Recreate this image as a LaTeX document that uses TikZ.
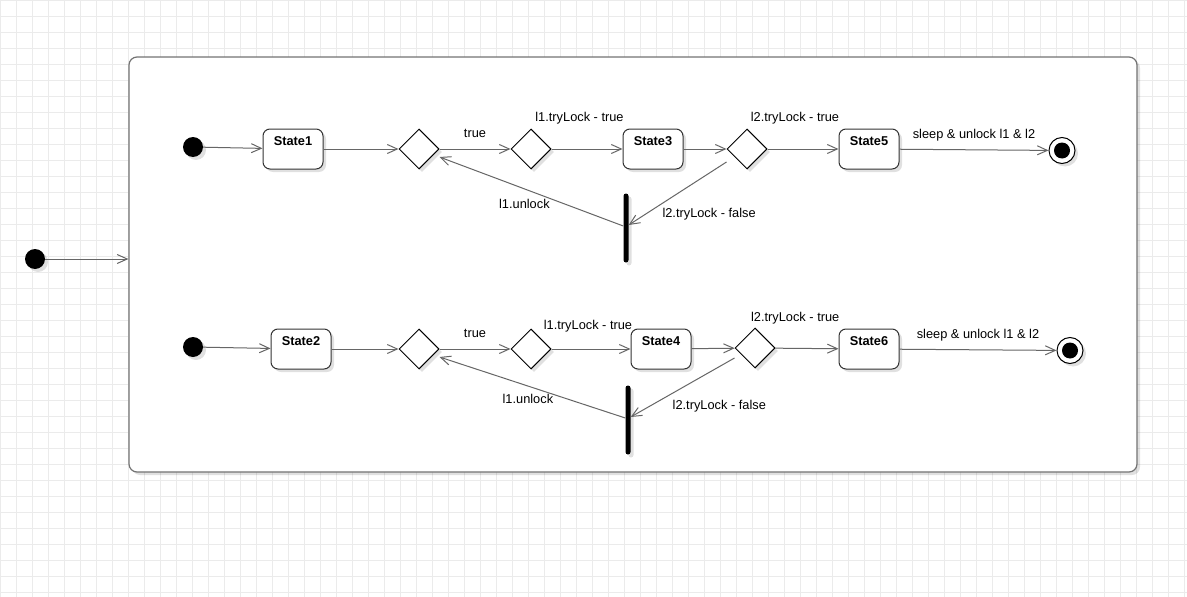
\documentclass[tikz,border=0pt]{standalone}
\usepackage{fontspec}
\setmainfont{Liberation Sans}
\usetikzlibrary{arrows.meta,shapes.geometric,shadows}

\tikzset{
  softshadow/.style={drop shadow={shadow xshift=3pt,shadow yshift=-3pt,fill=black,opacity=0.12}},
  gridline/.style={draw=black!8,line width=1pt},
  superstate/.style={rectangle,rounded corners=8pt,draw=black!55,line width=1.2pt,fill=white,inner sep=0pt,softshadow},
  statebox/.style={rectangle,rounded corners=7pt,draw=black!80,line width=1pt,fill=white,minimum width=60pt,minimum height=40pt,inner sep=0pt,font=\fontsize{12.8}{15}\selectfont\bfseries,text depth=15pt,softshadow},
  choicebox/.style={diamond,draw=black,line width=1pt,fill=white,minimum width=40pt,minimum height=40pt,inner sep=0pt,softshadow},
  initdot/.style={circle,fill=black,minimum size=20pt,inner sep=0pt,softshadow},
  finaldot/.style={circle,draw=black,line width=1pt,fill=white,minimum size=26pt,inner sep=0pt,softshadow,
    path picture={\fill[black] (path picture bounding box.center) circle (8pt);}},
  forkbar/.style={rectangle,rounded corners=2.5pt,fill=black,minimum width=5pt,minimum height=69pt,inner sep=0pt,softshadow},
  flow/.style={draw=black!60,line width=1pt,-{Straight Barb[length=10pt,width=9pt]}},
  edgelabel/.style={inner sep=0pt,anchor=base}
}

\begin{document}
\begin{tikzpicture}[x=1pt,y=-1pt,font=\fontsize{12.8}{15}\selectfont]
    \useasboundingbox (0,0) rectangle (1187,597);
    % background grid
    \foreach \k in {0,...,74} \draw[gridline] (16*\k+0.7,0) -- (16*\k+0.7,597);
    \foreach \k in {0,...,37} \draw[gridline] (0,16*\k+0.7) -- (1187,16*\k+0.7);

    \node[superstate, minimum width=1008pt, minimum height=415pt] (outer) at (633,264.5) {};
    \node[initdot] (init) at (35,259) {};
    \draw[flow] (init) -- (init -| outer.west);

    % upper region
    \node[initdot] (init1) at (193,147) {};
    \node[statebox] (st1) at (293,149) {State1};
    \node[choicebox] (ch11) at (419,149) {};
    \node[choicebox] (ch12) at (531,149) {};
    \node[statebox] (st3) at (653,149) {State3};
    \node[choicebox] (ch13) at (747,149) {};
    \node[statebox] (st5) at (869,149) {State5};
    \node[finaldot] (end1) at (1062,150.5) {};
    \node[forkbar] (bar1) at (626,228) {};

    \draw[flow] (init1) -- (st1);
    \draw[flow] (st1) -- (ch11);
    \draw[flow] (ch11) -- node[edgelabel, yshift=11.7pt] {true} (ch12);
    \draw[flow] (ch12) -- node[edgelabel, xshift=-7.5pt, yshift=27.3pt] {l1.tryLock - true} (st3);
    \draw[flow] (st3) -- (ch13);
    \draw[flow] (ch13) -- node[edgelabel, xshift=-8pt, yshift=27.3pt] {l2.tryLock - true} (st5);
    \draw[flow] (st5) -- node[edgelabel, yshift=11.5pt] {sleep \& unlock l1 \& l2} (end1);
    \draw[flow] ([yshift=-13pt]ch13.west) -- node[edgelabel, xshift=31.5pt, yshift=-23.8pt] {l2.tryLock - false} ([yshift=3pt]bar1.east);
    \draw[flow] ([yshift=2pt]bar1.west) -- node[edgelabel, xshift=-7pt, yshift=-16.8pt] {l1.unlock} ([yshift=-8pt]ch11.east);

    % lower region
    \node[initdot] (init2) at (193,347) {};
    \node[statebox] (st2) at (301,349) {State2};
    \node[choicebox] (ch21) at (419,349) {};
    \node[choicebox] (ch22) at (531,349) {};
    \node[statebox] (st4) at (661,349) {State4};
    \node[choicebox] (ch23) at (755,348) {};
    \node[statebox] (st6) at (869,349) {State6};
    \node[finaldot] (end2) at (1070,350.5) {};
    \node[forkbar] (bar2) at (628,420) {};

    \draw[flow] (init2) -- (st2);
    \draw[flow] (st2) -- (ch21);
    \draw[flow] (ch21) -- node[edgelabel, yshift=11.7pt] {true} (ch22);
    \draw[flow] (ch22) -- node[edgelabel, xshift=-3pt, yshift=19.7pt] {l1.tryLock - true} (st4);
    \draw[flow] (st4) -- (ch23);
    \draw[flow] (ch23) -- node[edgelabel, xshift=-11.7pt, yshift=26.8pt] {l2.tryLock - true} (st6);
    \draw[flow] (st6) -- node[edgelabel, yshift=11.8pt] {sleep \& unlock l1 \& l2} (end2);
    \draw[flow] ([yshift=-10pt]ch23.west) -- node[edgelabel, xshift=36.7pt, yshift=-21.6pt] {l2.tryLock - false} ([yshift=3pt]bar2.east);
    \draw[flow] ([yshift=2pt]bar2.west) -- node[edgelabel, xshift=-4.5pt, yshift=-16.3pt] {l1.unlock} ([yshift=-8pt]ch21.east);
\end{tikzpicture}
\end{document}
